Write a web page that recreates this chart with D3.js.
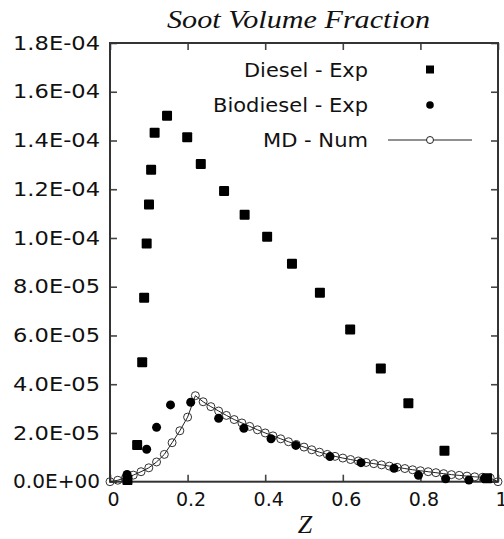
<!DOCTYPE html>
<html>
<head>
<meta charset="utf-8">
<script src="https://cdn.jsdelivr.net/npm/d3@7"></script>
<style>
  html, body { margin: 0; padding: 0; background: #fff; }
  svg { display: block; }
  .tick text { font-family: "DejaVu Sans", sans-serif; font-size: 19px; fill: #111; }
</style>
</head>
<body>
<div id="chart"></div>
<script>
// Mixture fraction Z and soot volume fraction for each series
const dieselZ = [0.045, 0.070, 0.083, 0.088, 0.0945, 0.1005, 0.106, 0.115, 0.147, 0.199, 0.234,
                 0.294, 0.347, 0.405, 0.469, 0.541, 0.619, 0.698, 0.769, 0.862, 0.972];
const dieselFv = [0.7e-6, 1.51e-5, 4.90e-5, 7.55e-5, 9.77e-5, 1.137e-4, 1.280e-4, 1.432e-4, 1.502e-4, 1.413e-4, 1.304e-4,
                  1.193e-4, 1.095e-4, 1.005e-4, 8.94e-5, 7.75e-5, 6.24e-5, 4.64e-5, 3.22e-5, 1.27e-5, 1.4e-6];

const biodieselZ = [0.044, 0.0945, 0.120, 0.156, 0.208, 0.280, 0.345, 0.415, 0.479, 0.567,
                    0.647, 0.732, 0.795, 0.865, 0.925, 0.965];
const biodieselFv = [3.0e-6, 1.33e-5, 2.23e-5, 3.15e-5, 3.26e-5, 2.60e-5, 2.19e-5, 1.76e-5, 1.49e-5, 1.03e-5,
                     7.8e-6, 5.5e-6, 2.6e-6, 1.2e-6, 0.7e-6, 1.3e-6];

const mdZ = [0.00, 0.02, 0.04, 0.06, 0.08, 0.10, 0.12, 0.14, 0.16, 0.18, 0.20, 0.22,
             0.24, 0.26, 0.28, 0.30, 0.32, 0.34, 0.36, 0.38, 0.40, 0.42, 0.44, 0.46, 0.48, 0.50,
             0.52, 0.54, 0.56, 0.58, 0.60, 0.62, 0.64, 0.66, 0.68, 0.70, 0.72, 0.74, 0.76, 0.78,
             0.80, 0.82, 0.84, 0.86, 0.88, 0.90, 0.92, 0.94, 0.96, 0.98, 1.00];
const mdFv = [0, 0.6e-6, 1.6e-6, 2.7e-6, 4.1e-6, 5.7e-6, 8.1e-6, 1.12e-5, 1.60e-5, 2.09e-5, 2.65e-5, 3.53e-5,
              3.28e-5, 3.08e-5, 2.90e-5, 2.72e-5, 2.55e-5, 2.41e-5, 2.27e-5, 2.13e-5, 2.00e-5, 1.88e-5, 1.76e-5, 1.64e-5, 1.53e-5, 1.42e-5,
              1.31e-5, 1.21e-5, 1.12e-5, 1.04e-5, 9.7e-6, 9.1e-6, 8.5e-6, 7.9e-6, 7.4e-6, 6.9e-6, 6.4e-6, 5.9e-6, 5.4e-6, 4.9e-6,
              4.5e-6, 4.1e-6, 3.7e-6, 3.3e-6, 2.9e-6, 2.6e-6, 2.3e-6, 2.0e-6, 1.8e-6, 1.5e-6, 0];

const xTicks = [0, 0.2, 0.4, 0.6, 0.8, 1];
const xTickLabels = ["0", "0.2", "0.4", "0.6", "0.8", "1"];
const yTicks = [0, 2e-5, 4e-5, 6e-5, 8e-5, 1e-4, 1.2e-4, 1.4e-4, 1.6e-4, 1.8e-4];
const yTickLabels = ["0.0E+00", "2.0E-05", "4.0E-05", "6.0E-05", "8.0E-05",
                     "1.0E-04", "1.2E-04", "1.4E-04", "1.6E-04", "1.8E-04"];

const legendLabels = ["Diesel - Exp", "Biodiesel - Exp", "MD - Num"];

const W = 504, H = 539;
const plot = { left: 110, right: 498, top: 43, bottom: 481.7 };

const svg = d3.select("#chart").append("svg")
  .attr("width", W).attr("height", H);

const x = d3.scaleLinear().domain([0, 1]).range([plot.left, plot.right]);
const y = d3.scaleLinear().domain([0, 1.8e-4]).range([plot.bottom, plot.top]);

// Axes with inward ticks on all four sides
const axisColor = "#444";
function styleAxis(g) {
  g.select(".domain").remove();
  g.selectAll(".tick line").attr("stroke", axisColor).attr("stroke-width", 1.6);
}

svg.append("g")
  .attr("transform", `translate(0,${plot.bottom})`)
  .call(d3.axisBottom(x).tickValues(xTicks).tickSize(-7).tickSizeOuter(0).tickPadding(11)
        .tickFormat((d, i) => xTickLabels[i]))
  .call(styleAxis)
  .call(g => g.selectAll(".tick text").attr("dx", 3));

svg.append("g")
  .attr("transform", `translate(0,${plot.top})`)
  .call(d3.axisTop(x).tickValues(xTicks).tickSize(-7).tickSizeOuter(0).tickFormat(""))
  .call(styleAxis);

svg.append("g")
  .attr("transform", `translate(${plot.left},0)`)
  .call(d3.axisLeft(y).tickValues(yTicks).tickSize(-7).tickSizeOuter(0).tickPadding(10)
        .tickFormat((d, i) => yTickLabels[i]))
  .call(styleAxis)
  .call(g => g.selectAll(".tick text")
    .attr("textLength", 87).attr("lengthAdjust", "spacingAndGlyphs"));

svg.append("g")
  .attr("transform", `translate(${plot.right},0)`)
  .call(d3.axisRight(y).tickValues(yTicks).tickSize(-7).tickSizeOuter(0).tickFormat(""))
  .call(styleAxis);

// Plot frame
svg.append("rect")
  .attr("x", plot.left).attr("y", plot.top)
  .attr("width", plot.right - plot.left).attr("height", plot.bottom - plot.top)
  .attr("fill", "none").attr("stroke", "#333").attr("stroke-width", 2);

// MD numerical result: thin line with open circles
const mdData = mdZ.map((z, i) => ({ z, v: mdFv[i] }));
svg.append("path")
  .datum(mdData)
  .attr("fill", "none").attr("stroke", "#222").attr("stroke-width", 1)
  .attr("d", d3.line().x(d => x(d.z)).y(d => y(d.v)));
svg.append("g").selectAll("circle")
  .data(mdData).join("circle")
  .attr("cx", d => x(d.z)).attr("cy", d => y(d.v)).attr("r", 4)
  .attr("fill", "none").attr("stroke", "#333").attr("stroke-width", 1);

// Biodiesel experiment: filled circles
svg.append("g").selectAll("circle")
  .data(biodieselZ.map((z, i) => ({ z, v: biodieselFv[i] }))).join("circle")
  .attr("cx", d => x(d.z)).attr("cy", d => y(d.v)).attr("r", 4.5)
  .attr("fill", "#000");

// Diesel experiment: filled squares
const sq = 10;
svg.append("g").selectAll("rect")
  .data(dieselZ.map((z, i) => ({ z, v: dieselFv[i] }))).join("rect")
  .attr("x", d => x(d.z) - sq / 2).attr("y", d => y(d.v) - sq / 2)
  .attr("width", sq).attr("height", sq).attr("rx", 1)
  .attr("fill", "#000");

// Legend
const legend = svg.append("g").attr("font-family", "DejaVu Sans, sans-serif")
  .attr("font-size", 19).attr("fill", "#111");
const legendY = [69.5, 105, 140];
const legendLen = [124, 155, 105];
legend.selectAll("text")
  .data(legendLabels).join("text")
  .attr("x", 368).attr("y", (d, i) => legendY[i] + 7)
  .attr("text-anchor", "end")
  .attr("textLength", (d, i) => legendLen[i]).attr("lengthAdjust", "spacingAndGlyphs")
  .text(d => d);
legend.append("rect")
  .attr("x", 430 - 4).attr("y", legendY[0] - 4).attr("width", 8).attr("height", 8)
  .attr("fill", "#000");
legend.append("circle")
  .attr("cx", 430).attr("cy", legendY[1]).attr("r", 3.8).attr("fill", "#000");
legend.append("line")
  .attr("x1", 388).attr("x2", 472).attr("y1", legendY[2]).attr("y2", legendY[2])
  .attr("stroke", "#222").attr("stroke-width", 1);
legend.append("circle")
  .attr("cx", 430).attr("cy", legendY[2]).attr("r", 3.5)
  .attr("fill", "#fff").attr("stroke", "#222").attr("stroke-width", 1);

// Title and axis label
svg.append("text")
  .attr("x", 167).attr("y", 28)
  .attr("font-family", "Liberation Serif, serif").attr("font-style", "italic")
  .attr("font-size", 25.5).attr("fill", "#111")
  .attr("textLength", 263).attr("lengthAdjust", "spacingAndGlyphs")
  .text("Soot Volume Fraction");

svg.append("text")
  .attr("x", 305).attr("y", 533)
  .attr("text-anchor", "middle")
  .attr("font-family", "Liberation Serif, serif").attr("font-style", "italic")
  .attr("font-size", 26).attr("fill", "#111")
  .text("Z");
</script>
</body>
</html>
